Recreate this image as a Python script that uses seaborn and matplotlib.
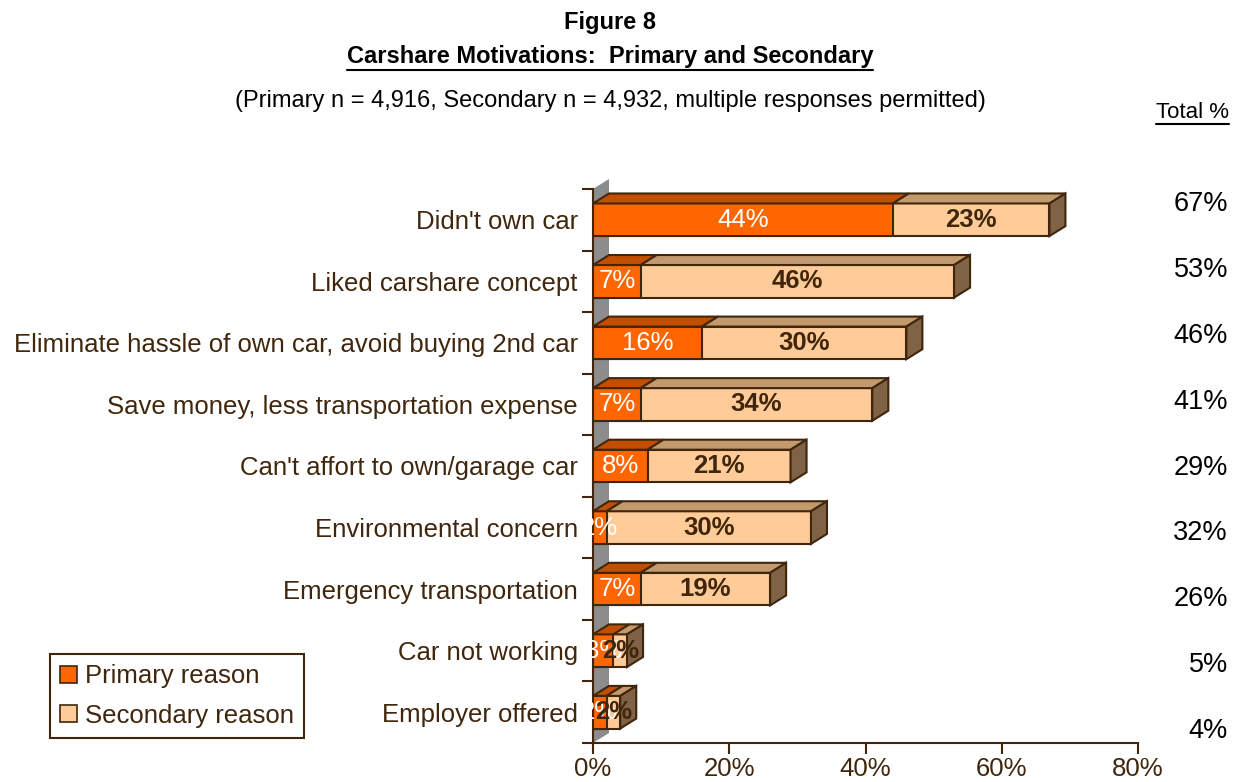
import matplotlib.pyplot as plt
from matplotlib.patches import Polygon, Patch
from matplotlib.lines import Line2D
import seaborn as sns
import pandas as pd

categories = [
    "Didn't own car",
    "Liked carshare concept",
    "Eliminate hassle of own car, avoid buying 2nd car",
    "Save money, less transportation expense",
    "Can't affort to own/garage car",
    "Environmental concern",
    "Emergency transportation",
    "Car not working",
    "Employer offered",
]
primary = [44, 7, 16, 7, 8, 2, 7, 3, 2]
secondary = [23, 46, 30, 34, 21, 30, 19, 2, 2]
totals = [67, 53, 46, 41, 29, 32, 26, 5, 4]
x_ticks = [0, 20, 40, 60, 80]

ORANGE = "#FF6600"
PEACH = "#FFCC99"
ORANGE_TOP = "#C24F00"
PEACH_TOP = "#C29A6E"
SIDE = "#806244"
BROWN = "#40260C"
WALL = "#8C8C8C"

sns.set_theme(style="white")
plt.rcParams["font.family"] = ["Liberation Sans", "DejaVu Sans"]
NARROW = ["Liberation Sans Narrow", "Liberation Sans", "DejaVu Sans"]

df = pd.DataFrame({"reason": categories, "primary": primary, "secondary": secondary})
df["stack"] = df["primary"] + df["secondary"]

W, H = 1235, 782
fig = plt.figure(figsize=(W / 100, H / 100), dpi=100)
ax = fig.add_axes([593 / W, 1 - 743 / H, (1138 - 593) / W, (743 - 189) / H])

sns.barplot(data=df, x="stack", y="reason", color=PEACH, saturation=1, width=0.53,
            edgecolor=BROWN, linewidth=1.5, ax=ax)
sns.barplot(data=df, x="primary", y="reason", color=ORANGE, saturation=1, width=0.53,
            edgecolor=BROWN, linewidth=1.5, ax=ax)

ax.set_xlim(0, 80)
ax.set_ylim(8.5, -0.5)

# 3D depth (16 px right, 10 px up)
dx = 16 / 545 * 80
dy = 10 / 61.6

# grey back wall
wall = Polygon([(0, 8.5), (dx, 8.5 - dy), (dx, -0.5 - dy), (0, -0.5)],
               closed=True, facecolor=WALL, edgecolor="none", zorder=0.5, clip_on=False)
ax.add_patch(wall)

n = len(categories)
stack_bars = ax.patches[:n]
prim_bars = ax.patches[n:2 * n]
for i in range(n):
    pb = prim_bars[i]
    sb = stack_bars[i]
    top = pb.get_y()
    bot = pb.get_y() + pb.get_height()
    x1 = pb.get_width()
    x2 = sb.get_width()
    faces = [
        ([(0, top), (x1, top), (x1 + dx, top - dy), (dx, top - dy)], ORANGE_TOP),
        ([(x1, top), (x2, top), (x2 + dx, top - dy), (x1 + dx, top - dy)], PEACH_TOP),
        ([(x2, top), (x2, bot), (x2 + dx, bot - dy), (x2 + dx, top - dy)], SIDE),
    ]
    for pts, c in faces:
        ax.add_patch(Polygon(pts, closed=True, facecolor=c, edgecolor=BROWN,
                             linewidth=1.5, zorder=1.5, clip_on=False))
    ax.text(x1 / 2, i, f"{primary[i]}%", color="white", ha="center", va="center",
            fontsize=18.5, zorder=3)
    ax.text(x1 + (x2 - x1) / 2, i, f"{secondary[i]}%", color=BROWN, ha="center",
            va="center", fontsize=18.5, fontweight="bold", zorder=3)

ax.set_xlabel("")
ax.set_ylabel("")
ax.set_xticks(x_ticks, labels=[f"{t}%" for t in x_ticks])
ax.set_yticks(range(n), labels=categories)
ax.set_yticks([i - 0.5 for i in range(n + 1)], minor=True)
ax.tick_params(axis="x", bottom=True, length=8, width=1.5, color=BROWN,
               labelcolor=BROWN, labelsize=18.5, pad=2)
ax.tick_params(axis="y", which="major", left=False, length=0, labelcolor=BROWN,
               labelsize=18.5, pad=11)
ax.tick_params(axis="y", which="minor", left=True, length=8, width=1.5, color=BROWN)
for s in ["top", "right"]:
    ax.spines[s].set_visible(False)
for s in ["left", "bottom"]:
    ax.spines[s].set_color(BROWN)
    ax.spines[s].set_linewidth(1.5)

# totals column
for i, t in enumerate(totals):
    fig.text(1228 / W, 1 - (204 + i * 65.9) / H, f"{t}%", ha="right", va="center",
             fontsize=19.5, color="black")

tot_hdr = fig.text(1229 / W, 1 - 112 / H, "Total %", ha="right", va="center",
                   fontsize=16, family=NARROW, color="black")

fig.text(610 / W, 1 - 22 / H, "Figure 8", ha="center", va="center", fontsize=17,
         fontweight="bold", family=NARROW, color="black")
title = fig.text(610 / W, 1 - 57 / H, "Carshare Motivations:  Primary and Secondary",
                 ha="center", va="center", fontsize=17, fontweight="bold",
                 family=NARROW, color="black")
fig.text(610 / W, 1 - 101 / H,
         "(Primary n = 4,916, Secondary n = 4,932, multiple responses permitted)",
         ha="center", va="center", fontsize=17, family=NARROW, color="black")

leg = fig.legend(
    handles=[Patch(facecolor=ORANGE, edgecolor=BROWN, linewidth=1.2, label="Primary reason"),
             Patch(facecolor=PEACH, edgecolor=BROWN, linewidth=1.2, label="Secondary reason")],
    loc="lower left", bbox_to_anchor=(50 / W, 1 - 738 / H), frameon=True, fancybox=False,
    edgecolor=BROWN, framealpha=1, fontsize=18.5, labelcolor=BROWN, handlelength=0.65,
    handleheight=0.65, handletextpad=0.3, labelspacing=0.6, borderpad=0.4,
    borderaxespad=0)
leg.get_frame().set_linewidth(1.5)

# underlines
fig.canvas.draw()
r = fig.canvas.get_renderer()
for t in [title, tot_hdr]:
    bb = t.get_window_extent(renderer=r)
    y = (bb.y0 - 1) / H
    fig.add_artist(Line2D([bb.x0 / W, bb.x1 / W], [y, y], color="black", linewidth=1.5))

fig.savefig("out.png", dpi=100)
